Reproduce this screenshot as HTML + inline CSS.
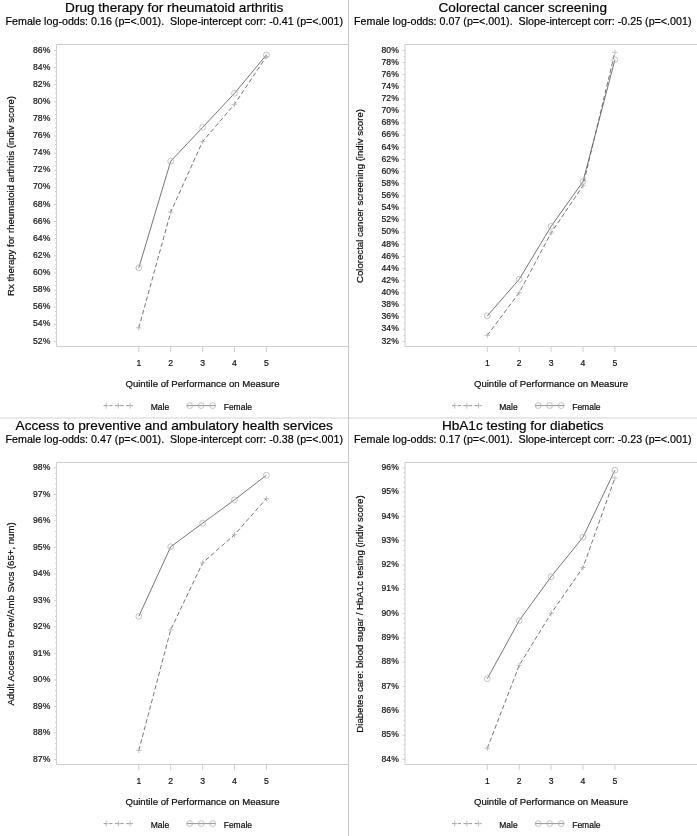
<!DOCTYPE html>
<html><head><meta charset="utf-8"><style>
html,body{margin:0;padding:0;background:#fff;}
body{width:697px;height:836px;overflow:hidden;}
svg{display:block;font-family:"Liberation Sans",sans-serif;}
text{stroke:currentColor;stroke-width:0.2px;}
.t{font-size:13.6px;text-anchor:middle;fill:#000;}
.s{font-size:10.7px;text-anchor:middle;fill:#000;}
.yl{font-size:8.6px;text-anchor:end;fill:#222;}
.xl{font-size:8.6px;text-anchor:middle;fill:#222;}
.at{font-size:9.6px;text-anchor:middle;fill:#111;}
.lg{font-size:8.5px;fill:#111;}
.ax{fill:none;stroke:#cfcfcf;stroke-width:1;}
.tk{fill:none;stroke:#cfcfcf;stroke-width:1;}
.ml{fill:none;stroke:#666;stroke-width:0.9;stroke-dasharray:4.4 2.6;}
.fl{fill:none;stroke:#666;stroke-width:0.9;}
.mk{fill:none;stroke:#b4b4b4;stroke-width:0.8;}
.fc{fill:none;stroke:#b4b4b4;stroke-width:0.8;}
.lgl{stroke:#8a8a8a;}
.lgm{stroke:#b0b0b0;}
</style></head><body>
<svg width="697" height="836" viewBox="0 0 697 836" style="filter:opacity(0.999)">
<g transform="translate(0,0)">
<text x="174.25" y="12.2" class="t">Drug therapy for rheumatoid arthritis</text>
<text x="174.25" y="24.9" class="s">Female log-odds: 0.16 (p=&lt;.001).  Slope-intercept corr: -0.41 (p=&lt;.001)</text>
<path d="M56.5 346.5V44.5H348.5M56.5 346.5H348.5" class="ax"/>
<text x="50.3" y="343.5" class="yl">52%</text>
<text x="50.3" y="326.38" class="yl">54%</text>
<text x="50.3" y="309.26" class="yl">56%</text>
<text x="50.3" y="292.15" class="yl">58%</text>
<text x="50.3" y="275.03" class="yl">60%</text>
<text x="50.3" y="257.91" class="yl">62%</text>
<text x="50.3" y="240.79" class="yl">64%</text>
<text x="50.3" y="223.68" class="yl">66%</text>
<text x="50.3" y="206.56" class="yl">68%</text>
<text x="50.3" y="189.44" class="yl">70%</text>
<text x="50.3" y="172.32" class="yl">72%</text>
<text x="50.3" y="155.21" class="yl">74%</text>
<text x="50.3" y="138.09" class="yl">76%</text>
<text x="50.3" y="120.97" class="yl">78%</text>
<text x="50.3" y="103.85" class="yl">80%</text>
<text x="50.3" y="86.74" class="yl">82%</text>
<text x="50.3" y="69.62" class="yl">84%</text>
<text x="50.3" y="52.5" class="yl">86%</text>
<path d="M53.9 341.4H56.5M55 337.12H56.5M55 332.84H56.5M55 328.56H56.5M53.9 324.28H56.5M55 320H56.5M55 315.72H56.5M55 311.44H56.5M53.9 307.16H56.5M55 302.89H56.5M55 298.61H56.5M55 294.33H56.5M53.9 290.05H56.5M55 285.77H56.5M55 281.49H56.5M55 277.21H56.5M53.9 272.93H56.5M55 268.65H56.5M55 264.37H56.5M55 260.09H56.5M53.9 255.81H56.5M55 251.53H56.5M55 247.25H56.5M55 242.97H56.5M53.9 238.69H56.5M55 234.41H56.5M55 230.14H56.5M55 225.86H56.5M53.9 221.58H56.5M55 217.3H56.5M55 213.02H56.5M55 208.74H56.5M53.9 204.46H56.5M55 200.18H56.5M55 195.9H56.5M55 191.62H56.5M53.9 187.34H56.5M55 183.06H56.5M55 178.78H56.5M55 174.5H56.5M53.9 170.22H56.5M55 165.94H56.5M55 161.66H56.5M55 157.39H56.5M53.9 153.11H56.5M55 148.83H56.5M55 144.55H56.5M55 140.27H56.5M53.9 135.99H56.5M55 131.71H56.5M55 127.43H56.5M55 123.15H56.5M53.9 118.87H56.5M55 114.59H56.5M55 110.31H56.5M55 106.03H56.5M53.9 101.75H56.5M55 97.47H56.5M55 93.19H56.5M55 88.91H56.5M53.9 84.64H56.5M55 80.36H56.5M55 76.08H56.5M55 71.8H56.5M53.9 67.52H56.5M55 63.24H56.5M55 58.96H56.5M55 54.68H56.5M53.9 50.4H56.5M138.8 346.5V352.1M170.7 346.5V352.1M202.6 346.5V352.1M234.5 346.5V352.1M266.4 346.5V352.1" class="tk"/>
<text x="138.8" y="365.9" class="xl">1</text>
<text x="170.7" y="365.9" class="xl">2</text>
<text x="202.6" y="365.9" class="xl">3</text>
<text x="234.5" y="365.9" class="xl">4</text>
<text x="266.4" y="365.9" class="xl">5</text>
<text x="202.5" y="387.3" class="at">Quintile of Performance on Measure</text>
<text transform="translate(14,196) rotate(-90)" class="at">Rx therapy for rheumatoid arthritis (indiv score)</text>
<polyline points="138.8,327.8 170.7,212.2 202.6,141.5 234.5,104.3 266.4,56.5" class="ml"/>
<polyline points="138.8,267.8 170.7,161.2 202.6,127.4 234.5,93.3 266.4,54.9" class="fl"/>
<path d="M136.1 327.8h5.4M138.8 325.1v5.4" class="mk"/>
<path d="M168 212.2h5.4M170.7 209.5v5.4" class="mk"/>
<path d="M199.9 141.5h5.4M202.6 138.8v5.4" class="mk"/>
<path d="M231.8 104.3h5.4M234.5 101.6v5.4" class="mk"/>
<path d="M263.7 56.5h5.4M266.4 53.8v5.4" class="mk"/>
<circle cx="138.8" cy="267.8" r="2.9" class="fc"/>
<circle cx="170.7" cy="161.2" r="2.9" class="fc"/>
<circle cx="202.6" cy="127.4" r="2.9" class="fc"/>
<circle cx="234.5" cy="93.3" r="2.9" class="fc"/>
<circle cx="266.4" cy="54.9" r="2.9" class="fc"/>
<path d="M103.7 405.6H133" class="ml lgl" style="stroke-dasharray:3.2 2.4"/>
<path d="M103.7 405.6h5M106.2 402.6v6" class="mk lgm"/>
<path d="M115.9 405.6h5M118.4 402.6v6" class="mk lgm"/>
<path d="M127.6 405.6h5M130.1 402.6v6" class="mk lgm"/>
<text x="150.7" y="409.5" class="lg">Male</text>
<path d="M186.5 405.6H215.8" class="fl lgl"/>
<circle cx="189.7" cy="405.6" r="2.9" class="fc"/>
<circle cx="201.2" cy="405.6" r="2.9" class="fc"/>
<circle cx="212.7" cy="405.6" r="2.9" class="fc"/>
<text x="223.7" y="409.5" class="lg">Female</text>
</g>
<g transform="translate(348.5,0)">
<text x="174.25" y="12.2" class="t">Colorectal cancer screening</text>
<text x="174.25" y="24.9" class="s">Female log-odds: 0.07 (p=&lt;.001).  Slope-intercept corr: -0.25 (p=&lt;.001)</text>
<path d="M56.5 346.5V44.5H348.5M56.5 346.5H348.5" class="ax"/>
<text x="50.3" y="343.5" class="yl">32%</text>
<text x="50.3" y="331.38" class="yl">34%</text>
<text x="50.3" y="319.25" class="yl">36%</text>
<text x="50.3" y="307.12" class="yl">38%</text>
<text x="50.3" y="295" class="yl">40%</text>
<text x="50.3" y="282.88" class="yl">42%</text>
<text x="50.3" y="270.75" class="yl">44%</text>
<text x="50.3" y="258.62" class="yl">46%</text>
<text x="50.3" y="246.5" class="yl">48%</text>
<text x="50.3" y="234.38" class="yl">50%</text>
<text x="50.3" y="222.25" class="yl">52%</text>
<text x="50.3" y="210.12" class="yl">54%</text>
<text x="50.3" y="198" class="yl">56%</text>
<text x="50.3" y="185.88" class="yl">58%</text>
<text x="50.3" y="173.75" class="yl">60%</text>
<text x="50.3" y="161.62" class="yl">62%</text>
<text x="50.3" y="149.5" class="yl">64%</text>
<text x="50.3" y="137.38" class="yl">66%</text>
<text x="50.3" y="125.25" class="yl">68%</text>
<text x="50.3" y="113.12" class="yl">70%</text>
<text x="50.3" y="101" class="yl">72%</text>
<text x="50.3" y="88.88" class="yl">74%</text>
<text x="50.3" y="76.75" class="yl">76%</text>
<text x="50.3" y="64.62" class="yl">78%</text>
<text x="50.3" y="52.5" class="yl">80%</text>
<path d="M53.9 341.4H56.5M55 335.34H56.5M53.9 329.27H56.5M55 323.21H56.5M53.9 317.15H56.5M55 311.09H56.5M53.9 305.02H56.5M55 298.96H56.5M53.9 292.9H56.5M55 286.84H56.5M53.9 280.77H56.5M55 274.71H56.5M53.9 268.65H56.5M55 262.59H56.5M53.9 256.52H56.5M55 250.46H56.5M53.9 244.4H56.5M55 238.34H56.5M53.9 232.28H56.5M55 226.21H56.5M53.9 220.15H56.5M55 214.09H56.5M53.9 208.03H56.5M55 201.96H56.5M53.9 195.9H56.5M55 189.84H56.5M53.9 183.78H56.5M55 177.71H56.5M53.9 171.65H56.5M55 165.59H56.5M53.9 159.53H56.5M55 153.46H56.5M53.9 147.4H56.5M55 141.34H56.5M53.9 135.28H56.5M55 129.21H56.5M53.9 123.15H56.5M55 117.09H56.5M53.9 111.03H56.5M55 104.96H56.5M53.9 98.9H56.5M55 92.84H56.5M53.9 86.78H56.5M55 80.71H56.5M53.9 74.65H56.5M55 68.59H56.5M53.9 62.52H56.5M55 56.46H56.5M53.9 50.4H56.5M138.8 346.5V352.1M170.7 346.5V352.1M202.6 346.5V352.1M234.5 346.5V352.1M266.4 346.5V352.1" class="tk"/>
<text x="138.8" y="365.9" class="xl">1</text>
<text x="170.7" y="365.9" class="xl">2</text>
<text x="202.6" y="365.9" class="xl">3</text>
<text x="234.5" y="365.9" class="xl">4</text>
<text x="266.4" y="365.9" class="xl">5</text>
<text x="202.5" y="387.3" class="at">Quintile of Performance on Measure</text>
<text transform="translate(14,196) rotate(-90)" class="at">Colorectal cancer screening (indiv score)</text>
<polyline points="138.8,335.3 170.7,292.7 202.6,232.9 234.5,185.7 266.4,52.3" class="ml"/>
<polyline points="138.8,315.9 170.7,279.3 202.6,226.4 234.5,181.5 266.4,59.7" class="fl"/>
<path d="M136.1 335.3h5.4M138.8 332.6v5.4" class="mk"/>
<path d="M168 292.7h5.4M170.7 290v5.4" class="mk"/>
<path d="M199.9 232.9h5.4M202.6 230.2v5.4" class="mk"/>
<path d="M231.8 185.7h5.4M234.5 183v5.4" class="mk"/>
<path d="M263.7 52.3h5.4M266.4 49.6v5.4" class="mk"/>
<circle cx="138.8" cy="315.9" r="2.9" class="fc"/>
<circle cx="170.7" cy="279.3" r="2.9" class="fc"/>
<circle cx="202.6" cy="226.4" r="2.9" class="fc"/>
<circle cx="234.5" cy="181.5" r="2.9" class="fc"/>
<circle cx="266.4" cy="59.7" r="2.9" class="fc"/>
<path d="M103.7 405.6H133" class="ml lgl" style="stroke-dasharray:3.2 2.4"/>
<path d="M103.7 405.6h5M106.2 402.6v6" class="mk lgm"/>
<path d="M115.9 405.6h5M118.4 402.6v6" class="mk lgm"/>
<path d="M127.6 405.6h5M130.1 402.6v6" class="mk lgm"/>
<text x="150.7" y="409.5" class="lg">Male</text>
<path d="M186.5 405.6H215.8" class="fl lgl"/>
<circle cx="189.7" cy="405.6" r="2.9" class="fc"/>
<circle cx="201.2" cy="405.6" r="2.9" class="fc"/>
<circle cx="212.7" cy="405.6" r="2.9" class="fc"/>
<text x="223.7" y="409.5" class="lg">Female</text>
</g>
<g transform="translate(0,418)">
<text x="174.25" y="12.2" class="t">Access to preventive and ambulatory health services</text>
<text x="174.25" y="24.9" class="s">Female log-odds: 0.47 (p=&lt;.001).  Slope-intercept corr: -0.38 (p=&lt;.001)</text>
<path d="M56.5 346.5V44.5H348.5M56.5 346.5H348.5" class="ax"/>
<text x="50.3" y="343.5" class="yl">87%</text>
<text x="50.3" y="317" class="yl">88%</text>
<text x="50.3" y="290.5" class="yl">89%</text>
<text x="50.3" y="264" class="yl">90%</text>
<text x="50.3" y="237.5" class="yl">91%</text>
<text x="50.3" y="211" class="yl">92%</text>
<text x="50.3" y="184.5" class="yl">93%</text>
<text x="50.3" y="158" class="yl">94%</text>
<text x="50.3" y="131.5" class="yl">95%</text>
<text x="50.3" y="105" class="yl">96%</text>
<text x="50.3" y="78.5" class="yl">97%</text>
<text x="50.3" y="52" class="yl">98%</text>
<path d="M53.9 341.4H56.5M55 336.1H56.5M55 330.8H56.5M55 325.5H56.5M55 320.2H56.5M53.9 314.9H56.5M55 309.6H56.5M55 304.3H56.5M55 299H56.5M55 293.7H56.5M53.9 288.4H56.5M55 283.1H56.5M55 277.8H56.5M55 272.5H56.5M55 267.2H56.5M53.9 261.9H56.5M55 256.6H56.5M55 251.3H56.5M55 246H56.5M55 240.7H56.5M53.9 235.4H56.5M55 230.1H56.5M55 224.8H56.5M55 219.5H56.5M55 214.2H56.5M53.9 208.9H56.5M55 203.6H56.5M55 198.3H56.5M55 193H56.5M55 187.7H56.5M53.9 182.4H56.5M55 177.1H56.5M55 171.8H56.5M55 166.5H56.5M55 161.2H56.5M53.9 155.9H56.5M55 150.6H56.5M55 145.3H56.5M55 140H56.5M55 134.7H56.5M53.9 129.4H56.5M55 124.1H56.5M55 118.8H56.5M55 113.5H56.5M55 108.2H56.5M53.9 102.9H56.5M55 97.6H56.5M55 92.3H56.5M55 87H56.5M55 81.7H56.5M53.9 76.4H56.5M55 71.1H56.5M55 65.8H56.5M55 60.5H56.5M55 55.2H56.5M53.9 49.9H56.5M138.8 346.5V352.1M170.7 346.5V352.1M202.6 346.5V352.1M234.5 346.5V352.1M266.4 346.5V352.1" class="tk"/>
<text x="138.8" y="365.9" class="xl">1</text>
<text x="170.7" y="365.9" class="xl">2</text>
<text x="202.6" y="365.9" class="xl">3</text>
<text x="234.5" y="365.9" class="xl">4</text>
<text x="266.4" y="365.9" class="xl">5</text>
<text x="202.5" y="387.3" class="at">Quintile of Performance on Measure</text>
<text transform="translate(14,196) rotate(-90)" class="at">Adult Access to Prev/Amb Svcs (65+, num)</text>
<polyline points="138.8,332.4 170.7,211.8 202.6,144.9 234.5,116.7 266.4,80.6" class="ml"/>
<polyline points="138.8,198.3 170.7,128.8 202.6,105.2 234.5,81.8 266.4,57.2" class="fl"/>
<path d="M136.1 332.4h5.4M138.8 329.7v5.4" class="mk"/>
<path d="M168 211.8h5.4M170.7 209.1v5.4" class="mk"/>
<path d="M199.9 144.9h5.4M202.6 142.2v5.4" class="mk"/>
<path d="M231.8 116.7h5.4M234.5 114v5.4" class="mk"/>
<path d="M263.7 80.6h5.4M266.4 77.9v5.4" class="mk"/>
<circle cx="138.8" cy="198.3" r="2.9" class="fc"/>
<circle cx="170.7" cy="128.8" r="2.9" class="fc"/>
<circle cx="202.6" cy="105.2" r="2.9" class="fc"/>
<circle cx="234.5" cy="81.8" r="2.9" class="fc"/>
<circle cx="266.4" cy="57.2" r="2.9" class="fc"/>
<path d="M103.7 405.6H133" class="ml lgl" style="stroke-dasharray:3.2 2.4"/>
<path d="M103.7 405.6h5M106.2 402.6v6" class="mk lgm"/>
<path d="M115.9 405.6h5M118.4 402.6v6" class="mk lgm"/>
<path d="M127.6 405.6h5M130.1 402.6v6" class="mk lgm"/>
<text x="150.7" y="409.5" class="lg">Male</text>
<path d="M186.5 405.6H215.8" class="fl lgl"/>
<circle cx="189.7" cy="405.6" r="2.9" class="fc"/>
<circle cx="201.2" cy="405.6" r="2.9" class="fc"/>
<circle cx="212.7" cy="405.6" r="2.9" class="fc"/>
<text x="223.7" y="409.5" class="lg">Female</text>
</g>
<g transform="translate(348.5,418)">
<text x="174.25" y="12.2" class="t">HbA1c testing for diabetics</text>
<text x="174.25" y="24.9" class="s">Female log-odds: 0.17 (p=&lt;.001).  Slope-intercept corr: -0.23 (p=&lt;.001)</text>
<path d="M56.5 346.5V44.5H348.5M56.5 346.5H348.5" class="ax"/>
<text x="50.3" y="343.5" class="yl">84%</text>
<text x="50.3" y="319.21" class="yl">85%</text>
<text x="50.3" y="294.92" class="yl">86%</text>
<text x="50.3" y="270.62" class="yl">87%</text>
<text x="50.3" y="246.33" class="yl">88%</text>
<text x="50.3" y="222.04" class="yl">89%</text>
<text x="50.3" y="197.75" class="yl">90%</text>
<text x="50.3" y="173.46" class="yl">91%</text>
<text x="50.3" y="149.17" class="yl">92%</text>
<text x="50.3" y="124.88" class="yl">93%</text>
<text x="50.3" y="100.58" class="yl">94%</text>
<text x="50.3" y="76.29" class="yl">95%</text>
<text x="50.3" y="52" class="yl">96%</text>
<path d="M53.9 341.4H56.5M55 336.54H56.5M55 331.68H56.5M55 326.83H56.5M55 321.97H56.5M53.9 317.11H56.5M55 312.25H56.5M55 307.39H56.5M55 302.53H56.5M55 297.68H56.5M53.9 292.82H56.5M55 287.96H56.5M55 283.1H56.5M55 278.24H56.5M55 273.38H56.5M53.9 268.52H56.5M55 263.67H56.5M55 258.81H56.5M55 253.95H56.5M55 249.09H56.5M53.9 244.23H56.5M55 239.37H56.5M55 234.52H56.5M55 229.66H56.5M55 224.8H56.5M53.9 219.94H56.5M55 215.08H56.5M55 210.22H56.5M55 205.37H56.5M55 200.51H56.5M53.9 195.65H56.5M55 190.79H56.5M55 185.93H56.5M55 181.08H56.5M55 176.22H56.5M53.9 171.36H56.5M55 166.5H56.5M55 161.64H56.5M55 156.78H56.5M55 151.93H56.5M53.9 147.07H56.5M55 142.21H56.5M55 137.35H56.5M55 132.49H56.5M55 127.63H56.5M53.9 122.78H56.5M55 117.92H56.5M55 113.06H56.5M55 108.2H56.5M55 103.34H56.5M53.9 98.48H56.5M55 93.62H56.5M55 88.77H56.5M55 83.91H56.5M55 79.05H56.5M53.9 74.19H56.5M55 69.33H56.5M55 64.47H56.5M55 59.62H56.5M55 54.76H56.5M53.9 49.9H56.5M138.8 346.5V352.1M170.7 346.5V352.1M202.6 346.5V352.1M234.5 346.5V352.1M266.4 346.5V352.1" class="tk"/>
<text x="138.8" y="365.9" class="xl">1</text>
<text x="170.7" y="365.9" class="xl">2</text>
<text x="202.6" y="365.9" class="xl">3</text>
<text x="234.5" y="365.9" class="xl">4</text>
<text x="266.4" y="365.9" class="xl">5</text>
<text x="202.5" y="387.3" class="at">Quintile of Performance on Measure</text>
<text transform="translate(14,196) rotate(-90)" class="at">Diabetes care: blood sugar / HbA1c testing (indiv score)</text>
<polyline points="138.8,330.3 170.7,247.4 202.6,195.4 234.5,149.5 266.4,60" class="ml"/>
<polyline points="138.8,260.7 170.7,202.6 202.6,158.7 234.5,119.2 266.4,52.2" class="fl"/>
<path d="M136.1 330.3h5.4M138.8 327.6v5.4" class="mk"/>
<path d="M168 247.4h5.4M170.7 244.7v5.4" class="mk"/>
<path d="M199.9 195.4h5.4M202.6 192.7v5.4" class="mk"/>
<path d="M231.8 149.5h5.4M234.5 146.8v5.4" class="mk"/>
<path d="M263.7 60h5.4M266.4 57.3v5.4" class="mk"/>
<circle cx="138.8" cy="260.7" r="2.9" class="fc"/>
<circle cx="170.7" cy="202.6" r="2.9" class="fc"/>
<circle cx="202.6" cy="158.7" r="2.9" class="fc"/>
<circle cx="234.5" cy="119.2" r="2.9" class="fc"/>
<circle cx="266.4" cy="52.2" r="2.9" class="fc"/>
<path d="M103.7 405.6H133" class="ml lgl" style="stroke-dasharray:3.2 2.4"/>
<path d="M103.7 405.6h5M106.2 402.6v6" class="mk lgm"/>
<path d="M115.9 405.6h5M118.4 402.6v6" class="mk lgm"/>
<path d="M127.6 405.6h5M130.1 402.6v6" class="mk lgm"/>
<text x="150.7" y="409.5" class="lg">Male</text>
<path d="M186.5 405.6H215.8" class="fl lgl"/>
<circle cx="189.7" cy="405.6" r="2.9" class="fc"/>
<circle cx="201.2" cy="405.6" r="2.9" class="fc"/>
<circle cx="212.7" cy="405.6" r="2.9" class="fc"/>
<text x="223.7" y="409.5" class="lg">Female</text>
</g>
<path d="M0 418H697" stroke="#e2e2e2" stroke-width="1.6" fill="none"/>
<path d="M348.5 0V836" stroke="#c8c8c8" stroke-width="1" fill="none"/>
</svg>
</body></html>
